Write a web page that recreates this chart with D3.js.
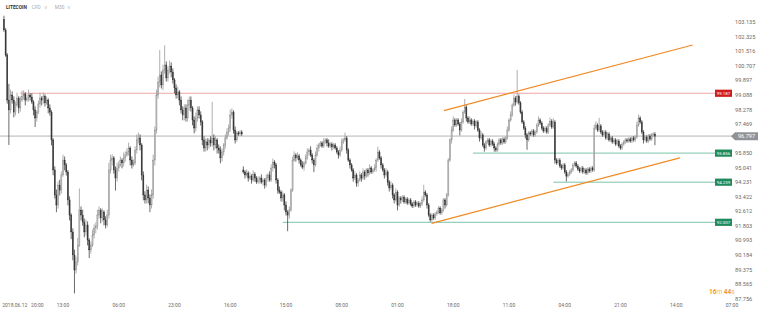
<!DOCTYPE html>
<html lang="en">
<head>
<meta charset="utf-8">
<title>LITECOIN M30</title>
<script src="https://cdn.jsdelivr.net/npm/d3@7/dist/d3.min.js"></script>
<style>
  body { margin: 0; background: #ffffff; }
  text { font-family: Roboto, "Open Sans", sans-serif; }
</style>
</head>
<body>
<div id="chart"></div>
<script>
// M30 candles. open = previous close, except where a session restarts
var closes = [
  102.71,101.32,98.81,98.26,99.09,98.81,98.14,98.53,98.92,98.37,
  98.81,99.03,99.15,98.81,98.92,99.09,98.98,98.70,98.26,97.81,
  98.14,98.59,98.92,98.81,99.03,98.65,98.81,98.37,98.14,96.59,
  94.92,93.53,92.97,94.08,93.80,94.64,95.47,95.20,94.81,93.25,
  92.41,91.47,90.19,89.35,89.80,90.74,92.69,92.41,92.02,91.47,
  91.86,91.02,90.47,90.74,91.30,91.69,91.80,92.41,92.69,92.25,
  92.58,92.14,91.86,92.41,94.92,95.47,95.59,94.92,94.47,95.03,
  95.20,95.47,95.31,95.59,95.75,95.92,96.14,95.47,95.20,95.31,
  96.03,96.59,96.70,96.31,94.64,93.53,93.25,93.80,93.36,92.97,
  93.53,95.47,97.14,99.09,99.81,100.20,99.65,100.48,100.76,100.04,
  100.48,100.70,100.37,99.93,99.48,99.09,99.26,98.81,98.26,97.98,
  98.37,97.81,98.53,98.81,98.37,97.70,97.25,97.81,98.26,97.98,
  97.59,96.59,96.14,96.48,96.31,96.59,96.42,96.70,96.31,96.59,
  96.14,96.03,95.59,95.92,96.31,96.70,97.03,97.25,97.98,98.14,
  97.14,96.59,96.98,96.92,97.03,96.92,
  94.81,94.64,94.75,94.47,94.58,94.36,94.69,94.47,94.25,94.36,
  94.47,94.25,94.36,94.08,94.47,94.64,94.36,95.03,95.36,95.20,
  94.36,93.80,93.69,93.36,93.53,92.97,92.58,92.41,92.69,93.80,
  95.47,95.75,95.59,95.70,95.47,95.20,95.08,95.31,95.59,95.92,
  96.03,95.75,95.47,95.20,95.75,96.14,96.31,96.42,96.25,96.48,
  96.59,96.42,96.25,96.36,96.20,96.31,96.14,95.92,95.75,96.03,
  96.48,96.59,96.70,96.03,95.47,95.20,94.92,94.47,94.64,94.19,
  94.36,94.64,94.47,94.81,94.58,94.92,94.75,95.03,94.81,94.92,
  95.03,95.47,95.92,95.59,95.20,94.92,94.64,94.81,94.25,93.92,
  94.08,93.53,93.25,93.69,92.97,93.36,93.25,93.41,93.14,93.30,
  93.08,93.25,93.03,92.91,93.14,92.97,93.08,92.91,93.03,93.25,
  93.69,93.53,92.97,92.41,92.14,92.41,92.25,92.47,92.58,92.80,
  92.53,92.69,93.25,92.97,93.53,95.47,96.59,97.14,97.70,97.42,
  97.70,97.48,97.14,97.59,98.14,98.42,97.81,97.59,97.70,97.48,
  97.64,97.37,97.59,97.14,96.70,96.87,96.31,96.14,96.48,96.59,
  96.31,96.53,96.36,96.14,96.03,96.36,96.59,96.42,96.64,96.48,
  96.70,97.14,97.70,97.98,98.53,98.92,98.70,99.03,98.65,98.14,
  97.59,97.25,96.87,96.59,96.98,96.92,97.09,96.87,97.03,97.42,
  97.70,97.53,97.25,97.09,97.25,97.03,97.42,97.64,97.31,97.59,
  95.47,95.31,95.47,95.14,95.03,95.20,94.81,94.58,94.69,94.81,
  94.92,95.20,95.31,95.14,94.97,94.86,95.03,94.81,94.92,94.75,
  94.97,94.86,95.03,94.92,97.25,97.42,97.14,97.37,97.03,96.87,
  97.03,96.70,96.92,96.59,96.70,96.48,96.59,96.36,96.53,96.25,
  96.14,96.36,96.48,96.59,96.53,96.64,96.53,96.70,96.59,96.75,
  97.42,97.81,97.59,97.03,96.59,96.75,96.53,96.81,96.64,96.87,
  96.92,96.80
];
// wick above max(open, close) and below min(open, close)
var wickUp = [
  .2,.1,.1,.9,.3,.2,.2,.2,.3,.1, .2,.3,.2,.1,.2,.3,.1,.2,.1,.2,
  .1,.2,.3,.1,.2,.1,.2,.1,.2,.1, .1,.2,.3,.2,.3,.2,.3,.2,.1,.1,
  .2,.1,.2,.3,.3,.4,1.2,.2,.3,.2, .3,.2,.1,.2,.3,.2,.2,.3,.2,.1,
  .2,.1,.2,.3,.4,.3,.2,.1,.2,.3, .2,.2,.1,.3,.2,.2,.3,.1,.2,.2,
  .2,.3,.3,.2,.1,.2,.2,.3,.2,.2, .3,.3,.2,.3,.3,1.4,.2,.3,1.1,.2,
  .2,.3,.2,.2,.1,.2,.3,.1,.2,.2, .2,.2,.3,.2,.2,.1,.2,.3,.2,.2,
  .2,.1,.2,.2,.2,.1,.2,2.0,.2,.2, .1,.2,.2,.2,.1,.2,.2,.2,.3,.2,
  .1,.2,.1,.1,.1,.1,
  .2,.1,.2,.1,.2,.1,.2,.1,.1,.2, .1,.2,.1,.1,.2,.1,.2,.2,.2,.1,
  .1,.1,.2,.1,.2,.1,.2,.1,.2,.1, .2,.2,.1,.2,.1,.1,.2,.1,.2,.2,
  .1,.2,.1,.1,.2,.2,.1,.1,.1,.2, .1,.1,.2,.1,.1,.1,.1,.1,.1,.2,
  .2,.1,.3,.1,.1,.1,.1,.1,.2,.1, .1,.2,.1,.2,.1,.1,.1,.2,.1,.1,
  .2,.1,.3,.1,.1,.1,.1,.2,.1,.1, .2,.1,.1,.2,.1,.1,.1,.1,.1,.1,
  .1,.1,.1,.1,.1,.1,.1,.1,.1,.2, .4,.1,.1,.1,.1,.1,.1,.1,.1,.1,
  .1,.1,.1,.1,.1,.1,.1,.2,.2,.1, .1,.1,.1,.2,.1,.45,.1,.1,.2,.1,
  .1,.1,.1,.1,.1,.2,.1,.1,.1,.1, .1,.1,.1,.1,.1,.1,.1,.1,.1,.1,
  .1,.2,.1,.2,.1,.2,.1,1.45,.1,.1, .1,.1,.1,.1,.1,.1,.1,.1,.1,.1,
  .2,.1,.1,.1,.1,.1,.1,.2,.1,.2, .1,.1,.1,.1,.1,.1,.1,.1,.1,.1,
  .1,.1,.1,.1,.1,.1,.1,.1,.1,.1, .1,.1,.1,.1,.2,.2,.1,.45,.1,.1,
  .1,.1,.1,.1,.1,.1,.1,.1,.1,.1, .1,.1,.1,.1,.1,.1,.1,.1,.1,.1,
  .2,.2,.1,.1,.1,.1,.1,.1,.1,.1, .1,.1
];
var wickDn = [
  .1,.1,.2,1.95,.2,.2,.3,.2,.1,.3, .2,.1,.2,.3,.1,.2,.2,.1,.3,.5,
  .2,.1,.2,.3,.2,.2,.1,.3,.2,.3, .3,.2,.4,.2,.3,.2,.1,.3,.2,.3,
  .3,.4,.3,1.3,.2,.2,.1,.3,.2,.3, .2,.3,.45,.2,.1,.2,.3,.2,.2,.3,
  .2,.3,.2,.1,.2,.2,.3,.2,.7,.2, .2,.1,.3,.2,.2,.1,.2,.3,.2,.1,
  .1,.2,.2,.3,.3,.3,.2,.2,.3,.4, .2,.2,.3,.2,.2,.3,.2,.3,.2,.2,
  .2,.2,.3,.2,.3,.2,.2,.3,.2,.3, .3,.2,.2,.3,.2,.3,.3,.2,.2,.2,
  .2,.3,.2,.2,.3,.2,.2,.2,.3,.2, .3,.2,.3,.2,.2,.2,.1,.2,.2,.2,
  .2,.2,.1,.1,.1,.1,
  .1,.2,.1,.2,.1,.2,.1,.2,.1,.1, .2,.1,.2,.2,.1,.2,.1,.1,.2,.2,
  .2,.2,.1,.2,.2,.3,.2,.9,.2,.1, .1,.1,.2,.1,.2,.1,.1,.2,.1,.1,
  .2,.1,.2,.4,.1,.1,.2,.1,.1,.1, .1,.2,.1,.1,.2,.1,.1,.1,.2,.1,
  .1,.1,.1,.2,.1,.2,.1,.2,.1,.2, .2,.1,.2,.1,.2,.1,.2,.1,.1,.1,
  .1,.2,.1,.1,.2,.1,.2,.1,.2,.2, .1,.2,.2,.1,.3,.1,.2,.1,.1,.1,
  .1,.1,.1,.1,.1,.1,.1,.1,.1,.1, .1,.1,.2,.1,.1,.1,.1,.1,.1,.1,
  .1,.1,.1,.2,.1,.1,.1,.2,.1,.1, .1,.1,.3,.1,.1,.1,.2,.1,.1,.1,
  .1,.2,.1,.1,.2,.1,.1,.2,.1,.1, .1,.1,.1,.2,.1,.1,.1,.1,.1,.1,
  .1,.1,.1,.1,.1,.1,.2,.1,.1,.1, .1,.1,.2,.55,.1,.1,.1,.1,.1,.1,
  .1,.1,.1,.1,.1,.1,.1,.1,.1,.1, .2,.1,.1,.1,.1,.1,.1,.3,.1,.1,
  .1,.1,.1,.1,.1,.1,.1,.1,.1,.1, .1,.1,.1,.1,.1,.1,.1,.1,.1,.1,
  .1,.1,.1,.1,.1,.1,.1,.1,.1,.1, .1,.1,.1,.1,.1,.1,.1,.1,.1,.1,
  .1,.1,.1,.1,.2,.1,.1,.1,.1,.1, .1,.5
];
// candles that start a new session (first bar, and the one after the data gap)
var sessionStart = [0, 146];
var sessionOpen = [103.30, 94.92];

// axis labels
var yTickLabels = ["103.135","102.325","101.516","100.707","99.897","99.088","98.278","97.469",
                   "95.850","95.041","94.231","93.422","92.612","91.803","90.993","90.184",
                   "89.375","88.565","87.756"];
var xTickIdx = [2, 36, 70, 104, 138, 172, 206, 240, 274, 308, 342, 376, 410, 444];
var xTickLabels = ["2018.06.12   20:00","13:00","06:00","23:00","16:00","15:00","08:00",
                   "01:00","18:00","11:00","04:00","21:00","14:00","07:00"];

// horizontal levels: price, first candle, kind
var levelPrice = [99.187, 95.856, 94.239, 92.007];
var levelFrom = [10, 286, 335, 170];
var levelKind = ["resistance", "support", "support", "support"];

// channel lines: [candle, price] start and end
var trendFrom = [[268.3, 98.22], [260.8, 91.95]];
var trendTo = [[420, 101.87], [412.2, 95.59]];

var lastPrice = 96.797;
var countdown = ["16", "m", "44", "s"];

var W = 760, H = 311;
var plotRight = 715;

var svg = d3.select("#chart").append("svg").attr("width", W).attr("height", H);

var x = d3.scaleLinear().domain([0, 444]).range([3.96, 732]);
var y = d3.scaleLinear().domain([87.756, 103.135]).range([298.7, 22.3]);

var candles = closes.map(function(c, i) {
  var k = sessionStart.indexOf(i);
  var o = k >= 0 ? sessionOpen[k] : closes[i - 1];
  return { i: i, o: o, c: c,
           h: Math.max(o, c) + wickUp[i],
           l: Math.min(o, c) - wickDn[i] };
});

// title
var title = svg.append("text").attr("x", 6).attr("y", 8.5).style("font-size", "4.8px");
title.append("tspan").attr("font-weight", "bold").attr("fill", "#333").text("LITECOIN");
title.append("tspan").attr("fill", "#aaa").attr("dx", 5).text("CFD");
title.append("tspan").attr("fill", "#bbb").attr("dx", 3).text("∨");
title.append("tspan").attr("fill", "#aaa").attr("dx", 7).text("M30");
title.append("tspan").attr("fill", "#bbb").attr("dx", 3).text("∨");

// current price line (behind candles)
svg.append("line")
  .attr("x1", 0).attr("x2", 732)
  .attr("y1", y(lastPrice)).attr("y2", y(lastPrice))
  .attr("stroke", "#d4d4d4").attr("stroke-width", 1.8);

// horizontal levels
svg.selectAll("line.level").data(levelPrice).enter().append("line")
  .attr("class", "level")
  .attr("x1", function(d, i) { return x(levelFrom[i]); })
  .attr("x2", plotRight)
  .attr("y1", function(d) { return y(d); })
  .attr("y2", function(d) { return y(d); })
  .attr("stroke", function(d, i) { return levelKind[i] == "resistance" ? "#f2a4a4" : "#7cc4aa"; })
  .attr("stroke-width", 1);

// candles
var bw = (x(1) - x(0)) * 0.72;
var g = svg.append("g");
g.selectAll("line.wick").data(candles).enter().append("line")
  .attr("class", "wick")
  .attr("x1", function(d) { return x(d.i); })
  .attr("x2", function(d) { return x(d.i); })
  .attr("y1", function(d) { return y(d.h); })
  .attr("y2", function(d) { return y(d.l); })
  .attr("stroke", function(d) { return d.c >= d.o ? "#9a9a9a" : "#444"; })
  .attr("stroke-width", 0.8);
g.selectAll("rect").data(candles).enter().append("rect")
  .attr("x", function(d) { return x(d.i) - bw / 2; })
  .attr("width", bw)
  .attr("y", function(d) { return y(Math.max(d.o, d.c)); })
  .attr("height", function(d) { return Math.max(1, Math.abs(y(d.o) - y(d.c))); })
  .attr("fill", function(d) { return d.c >= d.o ? "#b8b8b8" : "#3a3a3a"; })
  .attr("stroke", function(d) { return d.c >= d.o ? "#8c8c8c" : "#333"; })
  .attr("stroke-width", 0.3);

// channel
svg.selectAll("line.trend").data(trendFrom).enter().append("line")
  .attr("class", "trend")
  .attr("x1", function(d) { return x(d[0]); })
  .attr("y1", function(d) { return y(d[1]); })
  .attr("x2", function(d, i) { return x(trendTo[i][0]); })
  .attr("y2", function(d, i) { return y(trendTo[i][1]); })
  .attr("stroke", "#f08a24").attr("stroke-width", 1.2);

// price axis labels
svg.selectAll("text.ytick").data(yTickLabels).enter().append("text")
  .attr("class", "ytick")
  .attr("x", 735)
  .attr("y", function(d) { return y(+d); })
  .attr("dy", "0.35em")
  .style("font-size", "5.6px")
  .attr("fill", "#6a6a6a")
  .text(function(d) { return d; });

// level tags
var tags = svg.selectAll("g.tag").data(levelPrice).enter().append("g")
  .attr("class", "tag")
  .attr("transform", function(d) { return "translate(" + plotRight + "," + y(d) + ")"; });
tags.append("rect")
  .attr("x", 0).attr("y", -3.6).attr("width", 17).attr("height", 7.2)
  .attr("fill", function(d, i) { return levelKind[i] == "resistance" ? "#cf1b1b" : "#1f8a5b"; });
tags.append("text")
  .attr("x", 8.5).attr("dy", "0.35em").attr("text-anchor", "middle")
  .style("font-size", "4.4px").attr("fill", "#fff")
  .text(function(d) { return d.toFixed(3); });

// last price tag
var lp = svg.append("g").attr("transform", "translate(0," + y(lastPrice) + ")");
lp.append("path")
  .attr("d", "M731,0 L735,-4 L758,-4 L758,4 L735,4 Z")
  .attr("fill", "#8f9396");
lp.append("text")
  .attr("x", 746.5).attr("dy", "0.35em").attr("text-anchor", "middle")
  .style("font-size", "5.6px").attr("fill", "#fff")
  .text(lastPrice.toFixed(3));

// time axis labels
svg.selectAll("text.xtick").data(xTickIdx).enter().append("text")
  .attr("class", "xtick")
  .attr("x", function(d, i) { return i == 0 ? x(d) - 5 : x(d); })
  .attr("y", 306.5)
  .attr("text-anchor", function(d, i) { return i == 0 ? "start" : "middle"; })
  .style("font-size", "5px")
  .attr("fill", "#6a6a6a")
  .style("white-space", "pre")
  .text(function(d, i) { return xTickLabels[i]; });

// bar countdown
var cd = svg.append("text").attr("x", 709).attr("y", 294).style("font-size", "6.5px");
countdown.forEach(function(t, i) {
  cd.append("tspan")
    .attr("fill", i % 2 == 0 ? "#f39a2b" : "#f5b461")
    .attr("font-weight", i % 2 == 0 ? "bold" : "normal")
    .attr("dx", i == 2 ? 1.5 : 0)
    .text(t);
});
</script>
</body>
</html>
